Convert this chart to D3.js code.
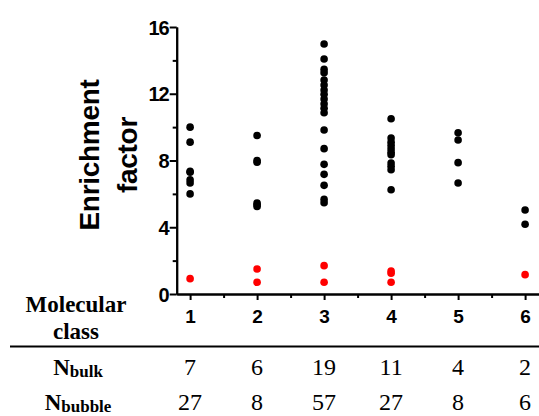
<!DOCTYPE html>
<html>
<head>
<meta charset="utf-8">
<script src="https://cdn.jsdelivr.net/npm/d3@7"></script>
<style>
  body { margin: 0; background: #fff; }
  svg { display: block; }
  .axis path, .axis line { stroke: #000; stroke-width: 2px; }
  .axis text { font-family: "Liberation Sans", Arial, sans-serif; font-weight: bold; fill: #000; }
</style>
</head>
<body>
<div id="chart"></div>
<script>
// molecular classes on the x axis
const classes = [1, 2, 3, 4, 5, 6];

// black points (bulk), per class
const bulkValues = [
  [10.0, 9.1, 7.35, 7.3, 6.85, 6.65, 6.0],
  [9.5, 8.0, 7.9, 5.45, 5.35, 5.25],
  [14.98, 14.08, 13.46, 13.26, 12.82, 12.52, 12.22, 11.97, 11.68, 11.4, 11.13, 10.86, 9.83, 8.71, 7.77, 7.17, 6.51, 5.67, 5.47],
  [10.5, 9.35, 9.1, 8.9, 8.7, 8.5, 8.35, 7.85, 7.65, 7.45, 6.25],
  [9.66, 9.23, 7.87, 6.65],
  [5.03, 4.18]
];

// red points, per class
const redValues = [
  [0.92],
  [1.5, 0.7],
  [1.7, 0.7],
  [1.38, 1.25, 0.7],
  [],
  [1.16]
];

// table rows under the axis
const nBulk = [7, 6, 19, 11, 4, 2];
const nBubble = [27, 8, 57, 27, 8, 6];

const yMajor = [0, 4, 8, 12, 16];
const yMinor = [2, 6, 10, 14];
const xMinor = [1.5, 2.5, 3.5, 4.5, 5.5];

const width = 539, height = 416;
const serif = "'Liberation Serif', 'Times New Roman', serif";

const svg = d3.select("#chart").append("svg")
    .attr("width", width)
    .attr("height", height);

const x = d3.scaleLinear().domain([0.8, 6.2]).range([176.7, 538.5]);
const y = d3.scaleLinear().domain([0, 16]).range([294, 27]);

// y axis, minor ticks first
svg.append("g")
    .attr("class", "axis")
    .attr("transform", `translate(${x(0.8)},0)`)
    .call(d3.axisLeft(y).tickValues(yMinor).tickSize(4).tickSizeOuter(0).tickFormat(""));

let yAxis = svg.append("g")
    .attr("class", "axis")
    .attr("transform", `translate(${x(0.8)},0)`)
    .call(d3.axisLeft(y).tickValues(yMajor).tickSize(7).tickSizeOuter(0).tickPadding(1));
yAxis.selectAll("text")
    .style("font-size", "20px")
    .style("letter-spacing", "-1px")
    .attr("dy", "0.36em");

// x axis
svg.append("g")
    .attr("class", "axis")
    .attr("transform", `translate(0,${y(0)})`)
    .call(d3.axisBottom(x).tickValues(xMinor).tickSize(4).tickSizeOuter(0).tickFormat(""));

let xAxis = svg.append("g")
    .attr("class", "axis")
    .attr("transform", `translate(0,${y(0)})`)
    .call(d3.axisBottom(x).tickValues(classes).tickSize(6).tickSizeOuter(0).tickFormat(d3.format("d")));
xAxis.selectAll("text")
    .style("font-size", "19px")
    .attr("y", 29)
    .attr("dy", 0);

// y axis title, two lines
const yTitle = ["Enrichment", "factor"];
const titleX = [99, 137];
svg.selectAll(".ytitle")
    .data(yTitle)
    .enter()
    .append("text")
    .attr("class", "ytitle")
    .attr("transform", (d, i) => `translate(${titleX[i]},155) rotate(-90)`)
    .attr("text-anchor", "middle")
    .style("font-family", "'Liberation Sans', Arial, sans-serif")
    .style("font-weight", "bold")
    .style("font-size", "28px")
    .style("letter-spacing", "-0.3px")
    .text(d => d);

// points
const points = [];
classes.forEach((c, i) => {
    bulkValues[i].forEach(v => points.push({c: c, v: v, color: "#000"}));
    redValues[i].forEach(v => points.push({c: c, v: v, color: "#ff0000"}));
});

svg.append("g").selectAll("circle")
    .data(points)
    .enter()
    .append("circle")
    .attr("cx", d => x(d.c))
    .attr("cy", d => y(d.v))
    .attr("r", 3.8)
    .attr("fill", d => d.color);

// "Molecular class" label
const catLabel = ["Molecular", "class"];
svg.selectAll(".catlabel")
    .data(catLabel)
    .enter()
    .append("text")
    .attr("class", "catlabel")
    .attr("x", 76)
    .attr("y", (d, i) => 312 + i * 26.5)
    .attr("text-anchor", "middle")
    .style("font-family", serif)
    .style("font-weight", "bold")
    .style("font-size", "23px")
    .text(d => d);

// rule
svg.append("line")
    .attr("x1", 10).attr("x2", width)
    .attr("y1", 346.5).attr("y2", 346.5)
    .attr("stroke", "#000")
    .attr("stroke-width", 2);

// row labels N_bulk / N_bubble
const rows = [
    {sub: "bulk", y: 375, values: nBulk},
    {sub: "bubble", y: 409.5, values: nBubble}
];

rows.forEach(r => {
    let t = svg.append("text")
        .attr("x", 78).attr("y", r.y)
        .attr("text-anchor", "middle")
        .style("font-family", serif)
        .style("font-weight", "bold");
    t.append("tspan").style("font-size", "23px").text("N");
    t.append("tspan").style("font-size", "17px").attr("dy", 2).text(r.sub);

    svg.append("g").selectAll("text")
        .data(r.values)
        .enter()
        .append("text")
        .attr("x", (d, i) => x(classes[i]))
        .attr("y", r.y)
        .attr("text-anchor", "middle")
        .style("font-family", serif)
        .style("font-size", "24px")
        .text(d => d);
});
</script>
</body>
</html>
